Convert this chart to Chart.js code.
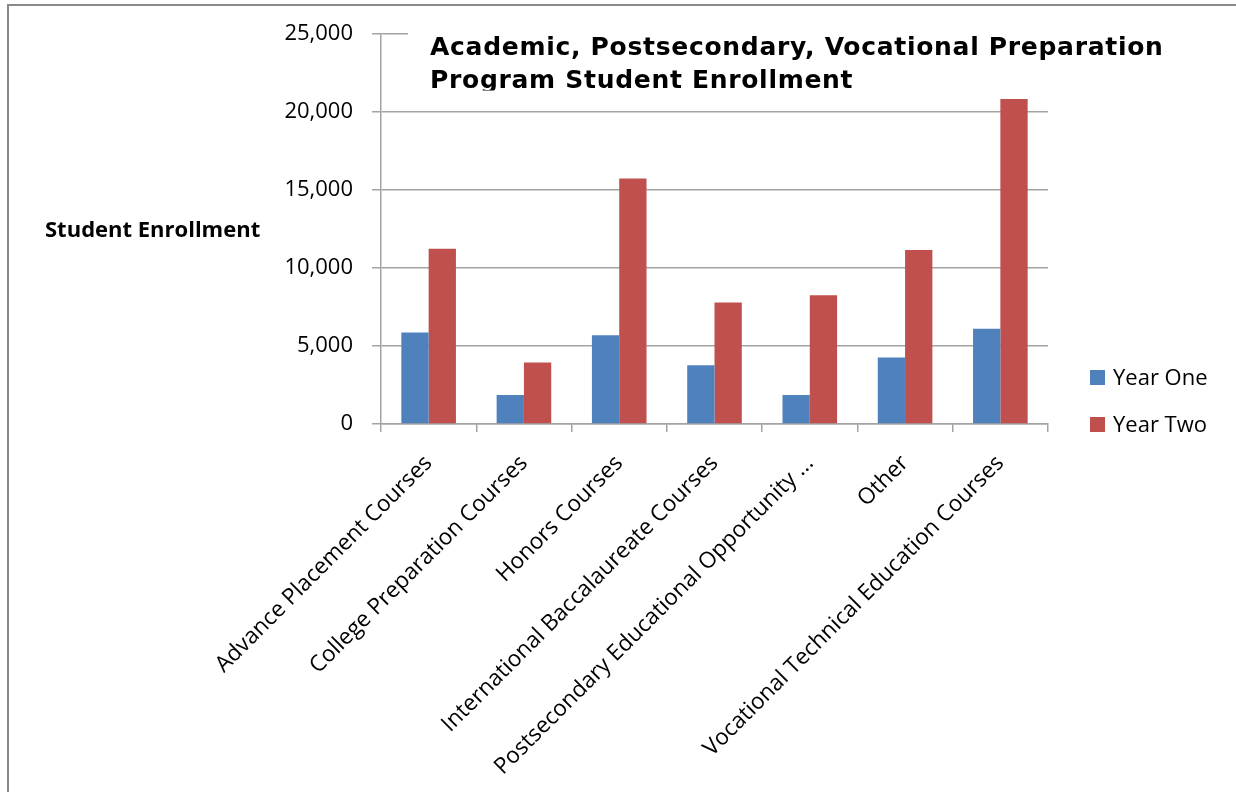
<!DOCTYPE html>
<html>
<head>
<meta charset="utf-8">
<title>Student Enrollment</title>
<script src="https://cdn.jsdelivr.net/npm/chart.js@4/dist/chart.umd.min.js"></script>
<style>
  html, body { margin: 0; padding: 0; background: #fff; }
  #frame {
    position: absolute; left: 7px; top: 4px; right: -10px; bottom: -10px;
    border-left: 2.5px solid #898989;
    border-top: 2.5px solid #898989;
  }
  #wrap { position: absolute; left: 0; top: 0; width: 1236px; height: 792px; }
</style>
</head>
<body>
<div id="frame"></div>
<div id="wrap"><canvas id="enrollChart" width="1236" height="792"></canvas></div>
<script>
const categories = [
    "Advance Placement Courses",
    "College Preparation Courses",
    "Honors Courses",
    "International Baccalaureate Courses",
    "Postsecondary Educational Opportunity ...",
    "Other",
    "Vocational Technical Education Courses"
];
const yearOne = [5870, 1860, 5690, 3770, 1860, 4260, 6100];
const yearTwo = [11230, 3940, 15730, 7790, 8260, 11150, 20840];
const yTicks = [0, 5000, 10000, 15000, 20000, 25000];

const titleLines = ["Academic, Postsecondary, Vocational Preparation", "Program Student Enrollment"];
const yAxisTitle = "Student Enrollment";

const gridGray = "#a3a3a3";

// draws the axis caption, legend and the boxed title over the plot
const overlayText = {
    id: "overlayText",
    afterDraw(chart) {
        const ctx = chart.ctx;
        const area = chart.chartArea;
        ctx.save();

        ctx.fillStyle = "#000";
        ctx.textBaseline = "alphabetic";
        ctx.textAlign = "left";
        ctx.font = 'bold 22px "Open Sans"';
        ctx.fillText(yAxisTitle, 45, 237);

        // legend
        ctx.font = '22px "Open Sans"';
        chart.data.datasets.forEach(function (ds, i) {
            const top = 370 + i * 47;
            ctx.fillStyle = ds.backgroundColor;
            ctx.fillRect(area.right + 42, top, 15, 15);
            ctx.fillStyle = "#000";
            ctx.fillText(ds.label, area.right + 65, top + 15);
        });

        // title sits in a white box that hides the top gridline
        const boxLeft = area.left + 27;
        ctx.fillStyle = "#fff";
        ctx.fillRect(boxLeft, 20, chart.width - boxLeft, 70.5);
        ctx.beginPath();
        ctx.rect(boxLeft, 20, chart.width - boxLeft, 70.5);
        ctx.clip();
        ctx.fillStyle = "#000";
        ctx.font = 'bold 25px "DejaVu Sans"';
        if ("letterSpacing" in ctx) ctx.letterSpacing = "0.7px";
        ctx.fillText(titleLines[0], boxLeft + 22, 55);
        ctx.fillText(titleLines[1], boxLeft + 22, 88);
        ctx.restore();
    }
};

new Chart(document.getElementById("enrollChart"), {
    type: "bar",
    data: {
        labels: categories,
        datasets: [
            { label: "Year One", data: yearOne, backgroundColor: "#4f81bd" },
            { label: "Year Two", data: yearTwo, backgroundColor: "#c0504d" }
        ]
    },
    options: {
        responsive: false,
        animation: false,
        devicePixelRatio: 1,
        layout: { padding: { top: 34, right: 188, bottom: 0, left: 0 } },
        datasets: {
            bar: { categoryPercentage: 0.573, barPercentage: 1.0 }
        },
        scales: {
            x: {
                grid: {
                    offset: true,
                    drawOnChartArea: false,
                    drawTicks: true,
                    tickLength: 8,
                    color: gridGray,
                    lineWidth: 1.5
                },
                border: { color: gridGray, width: 1.5 },
                ticks: {
                    autoSkip: false,
                    minRotation: 45,
                    maxRotation: 45,
                    padding: 18,
                    color: "#000",
                    font: { family: "Open Sans", size: 22.5 }
                },
                afterFit: function (scale) { scale.height = 368; }
            },
            y: {
                min: 0,
                max: 25000,
                afterBuildTicks: function (scale) {
                    scale.ticks = yTicks.map(function (v) { return { value: v }; });
                },
                grid: { color: gridGray, lineWidth: 1.5, tickLength: 9 },
                border: { color: gridGray, width: 1.5 },
                ticks: {
                    padding: 19,
                    color: "#000",
                    font: { family: "Open Sans", size: 22 },
                    callback: function (value) { return value.toLocaleString("en-US"); }
                },
                afterFit: function (scale) { scale.width = 381; }
            }
        },
        plugins: {
            legend: { display: false },
            tooltip: { enabled: false }
        }
    },
    plugins: [overlayText]
});
</script>
</body>
</html>
